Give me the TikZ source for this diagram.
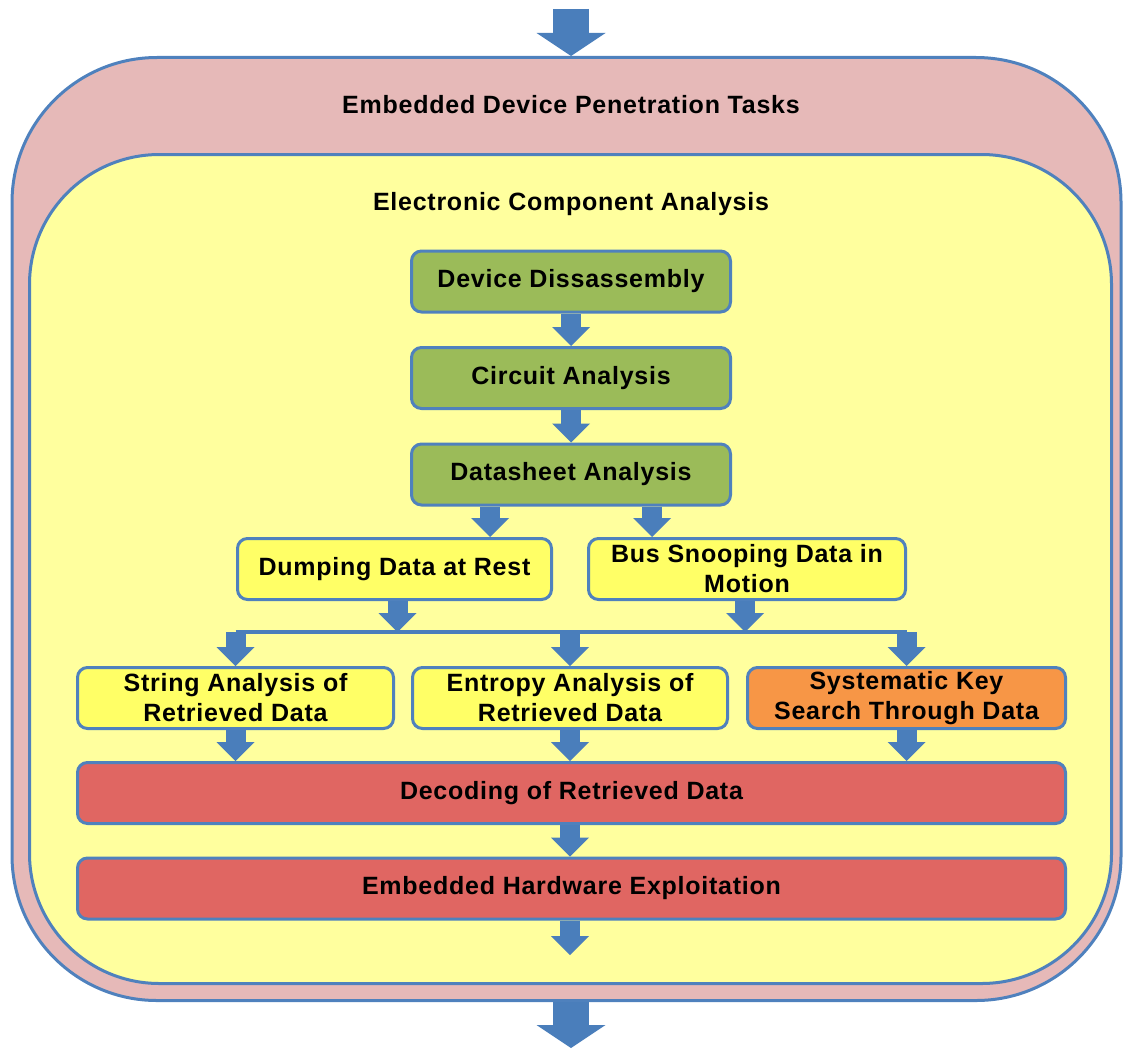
\documentclass[tikz,border=0pt]{standalone}
\usepackage{fontspec}
\setmainfont{Liberation Sans}[LetterSpace=3]
\usetikzlibrary{arrows.meta,calc}

\definecolor{edgeblue}{HTML}{4F81BD}
\definecolor{arrowblue}{HTML}{4A7EBB}
\definecolor{outerfill}{HTML}{E6B9B8}
\definecolor{innerfill}{HTML}{FFFF9E}
\definecolor{stepgreen}{HTML}{9BBB59}
\definecolor{stepyellow}{HTML}{FFFF66}
\definecolor{steporange}{HTML}{F79646}
\definecolor{stepred}{HTML}{E06662}

\begin{document}
\begin{tikzpicture}[x=1pt,y=-1pt,
  container/.style={draw=edgeblue, line width=3pt, inner sep=0pt},
  heading/.style={font=\bfseries\fontsize{25}{30}\selectfont, inner sep=0pt},
  stepbox/.style={draw=edgeblue, line width=3pt, rounded corners=10pt,
    minimum height=61pt, align=center, inner sep=0pt,
    font=\bfseries\fontsize{25}{30}\selectfont},
  flow/.style={arrowblue, line width=20pt,
    -{Triangle[width=38pt,length=19pt,line width=0pt]}},
  bigflow/.style={arrowblue, line width=36pt,
    -{Triangle[width=69pt,length=23pt,line width=0pt]}},
  busline/.style={arrowblue, line width=4pt}]
\useasboundingbox (0,0) rectangle (1123,1049);

% containers
\node[container, fill=outerfill, rounded corners=145pt,
  minimum width=1109pt, minimum height=943pt] (tasks) at (566.5,529) {};
\node[container, fill=innerfill, rounded corners=130pt,
  minimum width=1082pt, minimum height=829pt] (eca) at (570.5,569) {};
\node[heading, anchor=base] (tasksT) at (571,113) {Embedded Device Penetration Tasks};
\node[heading, anchor=base] (ecaT) at (571,210) {Electronic Component Analysis};

% process steps
\node[stepbox, fill=stepgreen, minimum width=319pt] (dd) at (571,281.5) {Device Dissassembly};
\node[stepbox, fill=stepgreen, minimum width=319pt] (ca) at (571,378) {Circuit Analysis};
\node[stepbox, fill=stepgreen, minimum width=319pt] (ds) at (571,474.5) {Datasheet Analysis};

\node[stepbox, fill=stepyellow, minimum width=314pt] (dump) at (394.5,569) {Dumping Data at Rest};
\node[stepbox, fill=stepyellow, minimum width=317pt] (bus) at (747,569) {Bus Snooping Data in\\Motion};

\node[stepbox, fill=stepyellow, minimum width=316pt] (str) at (235.5,698) {String Analysis of\\Retrieved Data};
\node[stepbox, fill=stepyellow, minimum width=315pt] (ent) at (570,698) {Entropy Analysis of\\Retrieved Data};
\node[stepbox, fill=steporange, minimum width=318pt] (sys) at (906.5,698) {Systematic Key\\Search Through Data};

\node[stepbox, fill=stepred, minimum width=988pt] (dec) at (571.5,793) {Decoding of Retrieved Data};
\node[stepbox, fill=stepred, minimum width=988pt] (hw) at (571.5,888.5) {Embedded Hardware Exploitation};

% free ends and junction
\coordinate (src) at (571,9);
\coordinate (sink) at (571,1048);
\coordinate (ecaEnd) at (570,955);
\coordinate (jl) at (236,632);

% connectors
\draw[bigflow] (src) -- (src |- tasks.north);
\draw[bigflow] (sink |- tasks.south) -- (sink);

\draw[flow] (dd) -- (ca);
\draw[flow] (ca) -- (ds);
\draw[flow] ([xshift=-81pt]ds.south) -- ([xshift=-81pt]ds.south |- dump.north);
\draw[flow] ([xshift=81pt]ds.south) -- ([xshift=81pt]ds.south |- bus.north);

\draw[busline] (str.north |- jl) -- (sys.north |- jl);
\draw[flow] ([xshift=3pt]dump.south) -- ([xshift=3pt]dump.south |- jl);
\draw[flow] ([xshift=-2pt]bus.south) -- ([xshift=-2pt]bus.south |- jl);
\draw[flow] (str.north |- jl) -- (str.north);
\draw[flow] (ent.north |- jl) -- (ent.north);
\draw[flow] (sys.north |- jl) -- (sys.north);

\draw[flow] (str.south) -- (str.south |- dec.north);
\draw[flow] (ent.south) -- (ent.south |- dec.north);
\draw[flow] (sys.south) -- (sys.south |- dec.north);
\draw[flow] (dec.south -| ent.south) -- (hw.north -| ent.south);
\draw[flow] (hw.south -| ent.south) -- (ecaEnd);
\end{tikzpicture}
\end{document}
